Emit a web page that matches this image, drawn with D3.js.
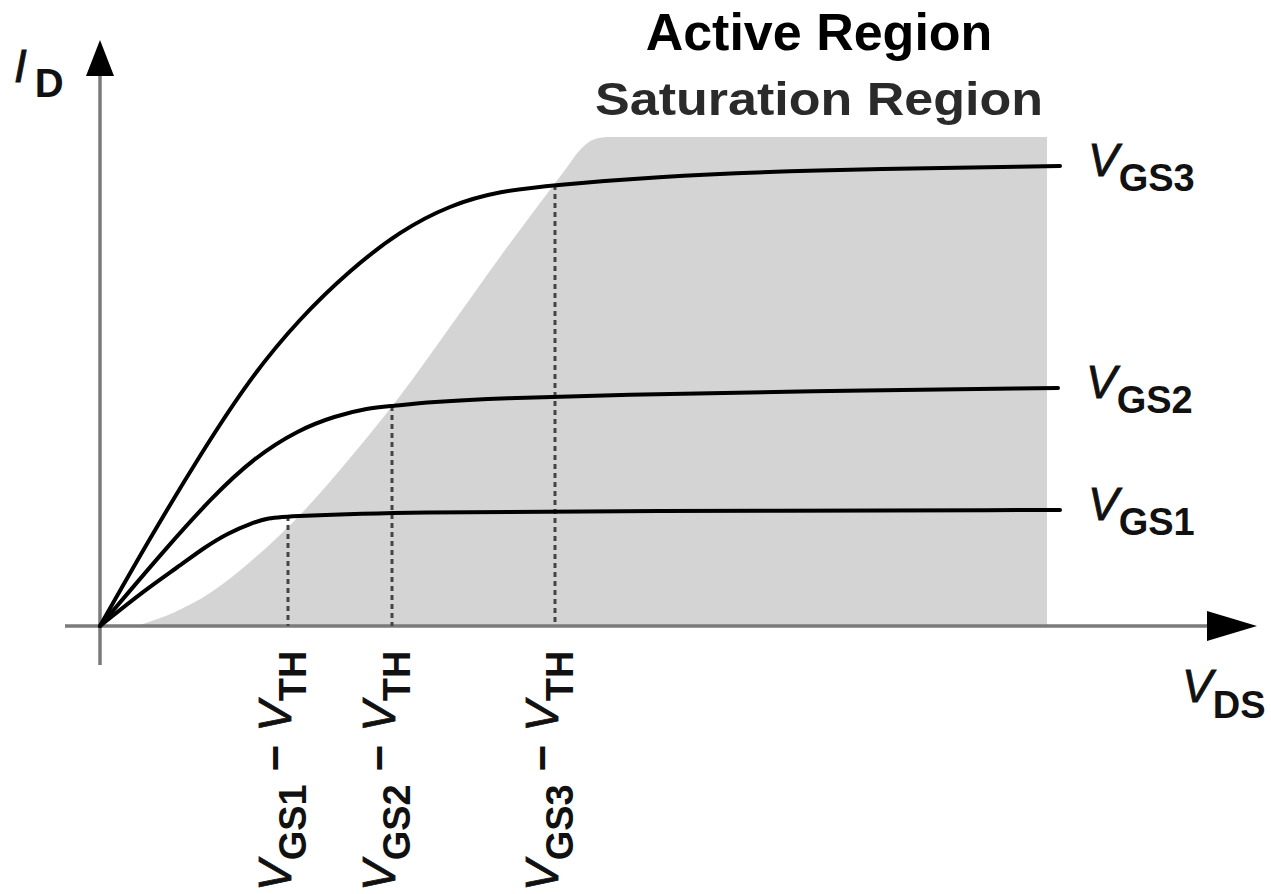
<!DOCTYPE html>
<html>
<head>
<meta charset="utf-8">
<script src="https://cdn.jsdelivr.net/npm/d3@7"></script>
<style>
  html, body { margin: 0; padding: 0; background: #fff; }
  svg { display: block; font-family: "Liberation Sans", Arial, Helvetica, sans-serif; }
</style>
</head>
<body>
<div id="chart"></div>
<script>
// I_D vs V_DS curves, [V_DS, I_D] in arbitrary units
const vgs1 = [[0, 0], [0.45, 0.72], [0.78, 1.18], [1.05, 1.58], [1.28, 1.86], [1.52, 2.06],
  [1.68, 2.16], [1.88, 2.2], [3.15, 2.28], [5.2, 2.3], [9.6, 2.32]];
const vgs2 = [[0, 0], [0.28, 0.66], [0.62, 1.46], [1.12, 2.58], [1.55, 3.38], [1.98, 3.92],
  [2.35, 4.2], [2.68, 4.36], [2.92, 4.4], [3.3, 4.48], [4.0, 4.56], [5.2, 4.62], [7.0, 4.7], [9.58, 4.76]];
const vgs3 = [[0, 0], [0.5, 1.76], [1.0, 3.42], [1.5, 4.96], [2.0, 6.16], [2.5, 7.12],
  [3.0, 7.9], [3.5, 8.42], [4.0, 8.7], [4.55, 8.82], [5.5, 8.98], [7.0, 9.12], [9.6, 9.2]];

// boundary of the shaded saturation region
const satBoundary = [[0.4, 0.02], [0.75, 0.28], [1.1, 0.66], [1.5, 1.28], [2.0, 2.22], [2.5, 3.36],
  [3.0, 4.6], [3.5, 5.98], [4.0, 7.38], [4.4, 8.46], [4.65, 9.12], [4.8, 9.52], [4.95, 9.74],
  [5.1, 9.78], [9.47, 9.78]];

// V_GS - V_TH points (dotted drops)
const kneeVds = [1.88, 2.92, 4.55];
const kneeId = [2.2, 4.4, 8.82];
const curveNames = ["GS1", "GS2", "GS3"];

// axis extents (data units)
const xAxisExtent = [-0.35, 11.57];
const yAxisExtent = [-0.78, 11.72];

const width = 1271, height = 894;
const x = d3.scaleLinear().domain([0, 10]).range([100, 1100]);
const y = d3.scaleLinear().domain([0, 10]).range([626, 126]);

const svg = d3.select("#chart").append("svg")
    .attr("width", width)
    .attr("height", height)
    .attr("viewBox", [0, 0, width, height]);

// shaded region
svg.append("path")
    .datum(satBoundary)
    .attr("fill", "#d4d4d4")
    .attr("d", d3.area()
      .x(d => x(d[0]))
      .y0(y(0))
      .y1(d => y(d[1]))
      .curve(d3.curveMonotoneX));

// axes
const arrowLen = 50, arrowHalf = 15;
svg.append("line")
    .attr("x1", x(xAxisExtent[0])).attr("x2", x(xAxisExtent[1]) - arrowLen + 2)
    .attr("y1", y(0)).attr("y2", y(0))
    .attr("stroke", "#7a7a7a").attr("stroke-width", 3.5);
svg.append("line")
    .attr("x1", x(0)).attr("x2", x(0))
    .attr("y1", y(yAxisExtent[0])).attr("y2", y(yAxisExtent[1]) + 34)
    .attr("stroke", "#7a7a7a").attr("stroke-width", 3.5);

// right arrow
const xt = x(xAxisExtent[1]);
svg.append("path")
    .attr("d", `M${xt},${y(0)}L${xt - arrowLen},${y(0) - arrowHalf}L${xt - arrowLen},${y(0) + arrowHalf}Z`)
    .attr("fill", "#000");
// up arrow
const yt = y(yAxisExtent[1]);
svg.append("path")
    .attr("d", `M${x(0)},${yt}L${x(0) - 14},${yt + 36}L${x(0) + 14},${yt + 36}Z`)
    .attr("fill", "#000");

// dotted drops
svg.selectAll(".drop")
  .data(kneeVds)
  .join("line")
    .attr("class", "drop")
    .attr("x1", d => x(d)).attr("x2", d => x(d))
    .attr("y1", (d, i) => y(kneeId[i])).attr("y2", y(0))
    .attr("stroke", "#444")
    .attr("stroke-width", 3)
    .attr("stroke-dasharray", "5,4");

// curves
const line = d3.line()
    .x(d => x(d[0]))
    .y(d => y(d[1]))
    .curve(d3.curveBasis);

svg.selectAll(".curve")
  .data([vgs1, vgs2, vgs3])
  .join("path")
    .attr("class", "curve")
    .attr("d", line)
    .attr("fill", "none")
    .attr("stroke", "#000")
    .attr("stroke-width", 4)
    .attr("stroke-linecap", "round");

// curve labels
[vgs1, vgs2, vgs3].forEach((s, i) => {
  const last = s[s.length - 1];
  const t = svg.append("text")
      .attr("x", x(last[0]) + 28)
      .attr("y", y(last[1]) + 10)
      .attr("fill", "#111");
  t.append("tspan").attr("font-style", "italic").attr("font-size", 46).attr("stroke", "#111").attr("stroke-width", 0.8).text("V");
  t.append("tspan").attr("font-size", 38).attr("font-weight", "bold").attr("dy", 15).text(curveNames[i]);
});

// rotated V_GS - V_TH labels
kneeVds.forEach((v, i) => {
  const t = svg.append("text")
      .attr("transform", `translate(${x(v) + 3},${height - 3}) rotate(-90)`)
      .attr("fill", "#111");
  t.append("tspan").attr("font-style", "italic").attr("font-size", 46).attr("stroke", "#111").attr("stroke-width", 0.8).text("V");
  t.append("tspan").attr("font-size", 38).attr("font-weight", "bold").attr("dy", 15).text(curveNames[i]);
  t.append("tspan").attr("font-size", 46).attr("font-weight", "bold").attr("dy", -15).text(" \u2212  ");
  t.append("tspan").attr("font-style", "italic").attr("font-size", 46).attr("stroke", "#111").attr("stroke-width", 0.8).text("V");
  t.append("tspan").attr("font-size", 38).attr("font-weight", "bold").attr("dy", 15).text("TH");
});

// axis labels
const id = svg.append("text").attr("x", 14).attr("y", 82).attr("fill", "#111");
id.append("tspan").attr("font-style", "italic").attr("font-size", 46).attr("stroke", "#111").attr("stroke-width", 0.8).text("I");
id.append("tspan").attr("font-size", 40).attr("font-weight", "bold").attr("dx", 8).attr("dy", 15).text("D");

const vds = svg.append("text").attr("x", 1182).attr("y", 702).attr("fill", "#111");
vds.append("tspan").attr("font-style", "italic").attr("font-size", 46).attr("stroke", "#111").attr("stroke-width", 0.8).text("V");
vds.append("tspan").attr("font-size", 38).attr("font-weight", "bold").attr("dy", 16).text("DS");

// region titles
svg.append("text")
    .attr("x", 819).attr("y", 50)
    .attr("text-anchor", "middle")
    .attr("font-size", 52).attr("font-weight", "bold")
    .text("Active Region");

svg.append("text")
    .attr("x", 819).attr("y", 115)
    .attr("text-anchor", "middle")
    .attr("font-size", 46).attr("font-weight", "bold")
    .attr("fill", "#2a2a2a")
    .attr("textLength", 448).attr("lengthAdjust", "spacingAndGlyphs")
    .text("Saturation Region");
</script>
</body>
</html>
